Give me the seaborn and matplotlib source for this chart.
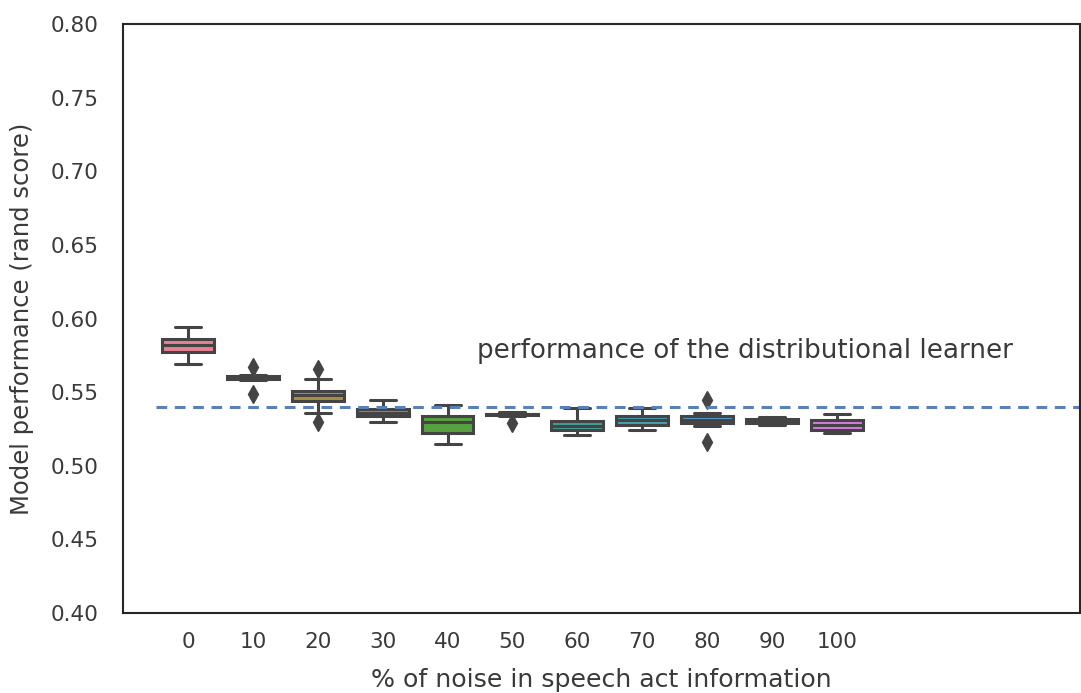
import numpy as np
import pandas as pd
import seaborn as sns
import matplotlib
matplotlib.use("Agg")
import matplotlib.pyplot as plt

noise_levels = ["0", "10", "20", "30", "40", "50", "60", "70", "80", "90", "100"]

# per-run rand scores (9 runs per noise level)
runs_0 = [0.569, 0.572, 0.577, 0.580, 0.582, 0.584, 0.586, 0.590, 0.594]
runs_10 = [0.549, 0.558, 0.559, 0.5595, 0.560, 0.5605, 0.561, 0.562, 0.567]
runs_20 = [0.530, 0.536, 0.544, 0.546, 0.548, 0.550, 0.551, 0.559, 0.566]
runs_30 = [0.530, 0.532, 0.5335, 0.535, 0.536, 0.537, 0.5385, 0.541, 0.545]
runs_40 = [0.515, 0.519, 0.522, 0.526, 0.530, 0.532, 0.534, 0.537, 0.541]
runs_50 = [0.529, 0.534, 0.5345, 0.535, 0.535, 0.5352, 0.5355, 0.5362, 0.5365]
runs_60 = [0.521, 0.523, 0.5245, 0.526, 0.527, 0.529, 0.5305, 0.535, 0.539]
runs_70 = [0.524, 0.526, 0.528, 0.530, 0.531, 0.532, 0.534, 0.536, 0.539]
runs_80 = [0.516, 0.527, 0.529, 0.530, 0.531, 0.532, 0.534, 0.536, 0.545]
runs_90 = [0.528, 0.5285, 0.529, 0.5295, 0.530, 0.531, 0.532, 0.5325, 0.533]
runs_100 = [0.522, 0.523, 0.524, 0.526, 0.528, 0.529, 0.531, 0.533, 0.535]

baseline = 0.540
baseline_label = "performance of the distributional learner"

all_runs = [runs_0, runs_10, runs_20, runs_30, runs_40, runs_50,
            runs_60, runs_70, runs_80, runs_90, runs_100]
rows = []
for lvl, vals in zip(noise_levels, all_runs):
    for v in vals:
        rows.append({"noise": lvl, "score": v})
df = pd.DataFrame(rows)

sns.set_theme(style="white")
plt.rcParams["font.family"] = ["DejaVu Sans"]

fig, ax = plt.subplots(figsize=(10.81, 6.93), dpi=100)
fig.subplots_adjust(left=0.114, right=0.999, top=0.965, bottom=0.1155)

line_c = "#444444"
pal = sns.color_palette("husl", 12)[:11]
sns.boxplot(data=df, x="noise", y="score", hue="noise", order=noise_levels,
            hue_order=noise_levels, palette=pal,
            legend=False, saturation=0.75, width=0.8, linewidth=2.2,
            linecolor=line_c,
            flierprops=dict(marker="d", markerfacecolor=line_c,
                            markeredgecolor=line_c, markersize=9),
            ax=ax)

ax.plot([-0.5, 20], [baseline, baseline], linestyle="--", color="#5a80b8",
        linewidth=2.2, dashes=(3.5, 2.5))
ax.text(4.45, 0.573, baseline_label, fontsize=18.8, color="#3a3a3a",
        ha="left", va="baseline")

ax.set_xlim(-1, 13.75)
ax.set_ylim(0.40, 0.80)
ax.set_yticks(np.arange(0.40, 0.801, 0.05))
ax.set_yticklabels([f"{t:.2f}" for t in np.arange(0.40, 0.801, 0.05)])
ax.tick_params(axis="y", labelsize=15.5, colors="#3a3a3a", pad=12)
ax.tick_params(axis="x", labelsize=15.5, colors="#3a3a3a", pad=8)
ax.set_xlabel("% of noise in speech act information", fontsize=18.2,
              color="#3a3a3a", labelpad=11)
ax.set_ylabel("Model performance (rand score)", fontsize=17.5,
              color="#3a3a3a", labelpad=12)
for s in ax.spines.values():
    s.set_color("#262626")
    s.set_linewidth(1.5)

fig.savefig("out.png", dpi=100)
